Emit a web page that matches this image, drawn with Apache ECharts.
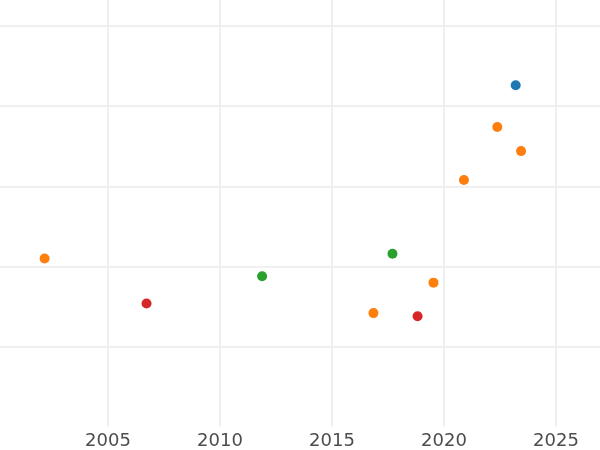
<!DOCTYPE html>
<html>
<head>
<meta charset="utf-8">
<script src="https://cdn.jsdelivr.net/npm/echarts@6/dist/echarts.min.js"></script>
<style>html,body{margin:0;padding:0;background:#fff}#c{width:600px;height:450px}</style>
</head>
<body>
<div id="c"></div>
<script>
const xTicks = [2005, 2010, 2015, 2020, 2025];
const blueX = [2023.20];
const blueY = [4.26];
const orangeX = [2002.17, 2016.85, 2019.53, 2020.89, 2022.38, 2023.44];
const orangeY = [2.10, 1.42, 1.80, 3.08, 3.74, 3.44];
const greenX = [2011.88, 2017.70];
const greenY = [1.88, 2.16];
const redX = [2006.72, 2018.82];
const redY = [1.54, 1.38];

const pts = (xs, ys) => xs.map((x, i) => [x, ys[i]]);
const mk = (name, color, xs, ys) => ({
  name, type: 'scatter', symbolSize: 10,
  itemStyle: { color, opacity: 1 }, data: pts(xs, ys)
});

const chart = echarts.init(document.getElementById('c'));
chart.setOption({
  animation: false,
  grid: { left: 0, right: 0, top: 0, bottom: 23, containLabel: false },
  xAxis: {
    type: 'value', min: 2000.179, max: 2026.964,
    axisLine: { show: false },
    axisTick: { show: false, customValues: xTicks },
    axisLabel: { customValues: xTicks, formatter: v => String(Math.round(v)), color: '#4d4d4d', fontSize: 18, fontFamily: 'DejaVu Sans', margin: 5 },
    splitLine: { show: true, lineStyle: { color: '#ebebeb', width: 1.5 } }
  },
  yAxis: {
    type: 'value', min: 0, max: 5.324, interval: 1,
    axisLine: { show: false }, axisTick: { show: false }, axisLabel: { show: false },
    splitLine: { show: true, lineStyle: { color: ['rgba(0,0,0,0)', '#ebebeb', '#ebebeb', '#ebebeb', '#ebebeb', '#ebebeb'], width: 1.5 } }
  },
  series: [
    mk('blue', '#1f77b4', blueX, blueY),
    mk('orange', '#ff7f0e', orangeX, orangeY),
    mk('green', '#2ca02c', greenX, greenY),
    mk('red', '#d62728', redX, redY)
  ]
});
</script>
</body>
</html>
